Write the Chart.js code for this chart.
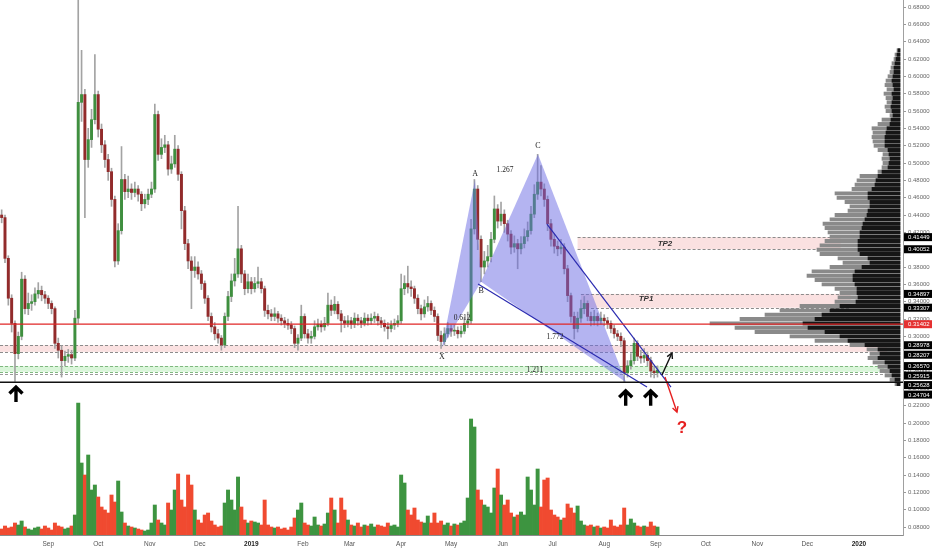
<!DOCTYPE html>
<html>
<head>
<meta charset="utf-8">
<script src="https://cdn.jsdelivr.net/npm/chart.js@4.4.0/dist/chart.umd.min.js"></script>
<style>
  html, body { margin: 0; padding: 0; background: #fff; overflow: hidden; }
  #wrap { position: relative; width: 932px; height: 550px; }
  #wrap canvas { position: absolute; left: 0; top: 0; }
</style>
</head>
<body>
<div id="wrap">
  <canvas id="main" width="932" height="550"></canvas>
  <canvas id="prof" width="932" height="550"></canvas>
</div>
<script>
Chart.defaults.font.family = "'Liberation Sans', Arial, sans-serif";

// price candles, one per two days, starting Aug 4 2018 (day 0)
const FIRST_OPEN = 0.440;
const CLOSE = [
  0.437, 0.390, 0.344, 0.315, 0.280, 0.300, 0.366, 0.332, 0.338, 0.340,
  0.349, 0.353, 0.348, 0.344, 0.338, 0.332, 0.292, 0.284, 0.272, 0.277,
  0.279, 0.275, 0.321, 0.570, 0.579, 0.504, 0.527, 0.550, 0.579, 0.539,
  0.521, 0.504, 0.490, 0.458, 0.387, 0.422, 0.481, 0.467, 0.470, 0.466,
  0.470, 0.464, 0.453, 0.458, 0.464, 0.470, 0.556, 0.510, 0.518, 0.521,
  0.493, 0.499, 0.516, 0.487, 0.445, 0.407, 0.387, 0.376, 0.380, 0.372,
  0.361, 0.344, 0.323, 0.311, 0.303, 0.298, 0.290, 0.323, 0.346, 0.364,
  0.372, 0.401, 0.372, 0.355, 0.363, 0.355, 0.361, 0.363, 0.355, 0.330,
  0.326, 0.323, 0.326, 0.321, 0.318, 0.315, 0.313, 0.309, 0.292, 0.298,
  0.323, 0.303, 0.298, 0.300, 0.311, 0.314, 0.311, 0.315, 0.336, 0.330,
  0.337, 0.326, 0.318, 0.315, 0.318, 0.314, 0.321, 0.318, 0.315, 0.321,
  0.318, 0.321, 0.323, 0.318, 0.315, 0.311, 0.309, 0.313, 0.315, 0.318,
  0.355, 0.361, 0.357, 0.355, 0.344, 0.332, 0.326, 0.334, 0.338, 0.330,
  0.323, 0.301, 0.294, 0.303, 0.309, 0.306, 0.307, 0.303, 0.306, 0.315,
  0.318, 0.424, 0.470, 0.412, 0.380, 0.387, 0.392, 0.412, 0.447, 0.433,
  0.441, 0.430, 0.418, 0.403, 0.407, 0.401, 0.407, 0.415, 0.422, 0.441,
  0.464, 0.478, 0.470, 0.458, 0.430, 0.412, 0.404, 0.401, 0.403, 0.378,
  0.347, 0.323, 0.309, 0.321, 0.332, 0.338, 0.323, 0.318, 0.323, 0.318,
  0.321, 0.318, 0.315, 0.309, 0.303, 0.300, 0.295, 0.258, 0.266, 0.272,
  0.292, 0.277, 0.275, 0.278, 0.272, 0.260, 0.258, 0.261
];
const HIGH = [
  0.446, 0.440, 0.393, 0.348, 0.318, 0.305, 0.374, 0.370, 0.350, 0.348,
  0.356, 0.362, 0.358, 0.352, 0.347, 0.341, 0.334, 0.298, 0.289, 0.283,
  0.285, 0.284, 0.330, 0.700, 0.630, 0.585, 0.540, 0.562, 0.625, 0.583,
  0.545, 0.526, 0.510, 0.494, 0.462, 0.430, 0.519, 0.487, 0.485, 0.476,
  0.478, 0.474, 0.467, 0.464, 0.470, 0.478, 0.568, 0.560, 0.528, 0.532,
  0.525, 0.508, 0.532, 0.520, 0.490, 0.450, 0.412, 0.392, 0.392, 0.386,
  0.376, 0.364, 0.347, 0.327, 0.316, 0.308, 0.301, 0.327, 0.352, 0.372,
  0.390, 0.450, 0.405, 0.376, 0.372, 0.368, 0.368, 0.380, 0.367, 0.358,
  0.336, 0.331, 0.333, 0.329, 0.325, 0.322, 0.320, 0.317, 0.312, 0.302,
  0.336, 0.326, 0.308, 0.306, 0.318, 0.320, 0.318, 0.322, 0.350, 0.342,
  0.346, 0.340, 0.330, 0.323, 0.324, 0.322, 0.327, 0.325, 0.322, 0.327,
  0.325, 0.326, 0.328, 0.326, 0.322, 0.319, 0.316, 0.318, 0.320, 0.324,
  0.372, 0.370, 0.381, 0.364, 0.358, 0.348, 0.336, 0.342, 0.346, 0.341,
  0.334, 0.326, 0.306, 0.310, 0.316, 0.313, 0.313, 0.311, 0.312, 0.322,
  0.328, 0.435, 0.481, 0.474, 0.416, 0.398, 0.405, 0.420, 0.462, 0.452,
  0.455, 0.446, 0.434, 0.422, 0.416, 0.412, 0.415, 0.424, 0.432, 0.450,
  0.475, 0.510, 0.497, 0.476, 0.462, 0.435, 0.418, 0.410, 0.412, 0.407,
  0.382, 0.350, 0.328, 0.328, 0.342, 0.346, 0.341, 0.328, 0.330, 0.327,
  0.328, 0.325, 0.322, 0.318, 0.313, 0.307, 0.304, 0.298, 0.272, 0.280,
  0.298, 0.295, 0.284, 0.286, 0.282, 0.276, 0.266, 0.266
];
const LOW = [
  0.431, 0.385, 0.336, 0.305, 0.248, 0.274, 0.296, 0.326, 0.325, 0.330,
  0.336, 0.344, 0.341, 0.338, 0.332, 0.326, 0.286, 0.275, 0.253, 0.266,
  0.270, 0.268, 0.272, 0.315, 0.548, 0.437, 0.495, 0.518, 0.545, 0.530,
  0.512, 0.495, 0.480, 0.450, 0.380, 0.383, 0.418, 0.458, 0.460, 0.458,
  0.461, 0.456, 0.445, 0.448, 0.452, 0.460, 0.466, 0.503, 0.505, 0.512,
  0.486, 0.488, 0.495, 0.480, 0.424, 0.400, 0.378, 0.332, 0.368, 0.366,
  0.354, 0.338, 0.318, 0.305, 0.296, 0.292, 0.284, 0.287, 0.318, 0.340,
  0.358, 0.368, 0.362, 0.348, 0.350, 0.349, 0.351, 0.356, 0.350, 0.323,
  0.320, 0.318, 0.318, 0.316, 0.313, 0.310, 0.308, 0.303, 0.287, 0.284,
  0.295, 0.298, 0.292, 0.292, 0.297, 0.307, 0.305, 0.307, 0.312, 0.324,
  0.326, 0.320, 0.305, 0.310, 0.311, 0.309, 0.310, 0.313, 0.310, 0.312,
  0.313, 0.314, 0.316, 0.313, 0.310, 0.306, 0.297, 0.305, 0.308, 0.311,
  0.315, 0.348, 0.350, 0.346, 0.338, 0.326, 0.319, 0.322, 0.329, 0.325,
  0.317, 0.295, 0.286, 0.290, 0.299, 0.300, 0.301, 0.298, 0.299, 0.303,
  0.310, 0.315, 0.418, 0.400, 0.363, 0.372, 0.380, 0.386, 0.408, 0.425,
  0.428, 0.420, 0.410, 0.395, 0.397, 0.378, 0.395, 0.402, 0.410, 0.418,
  0.437, 0.458, 0.462, 0.450, 0.422, 0.404, 0.396, 0.393, 0.395, 0.372,
  0.340, 0.316, 0.297, 0.305, 0.316, 0.326, 0.318, 0.312, 0.313, 0.312,
  0.314, 0.312, 0.309, 0.304, 0.298, 0.295, 0.288, 0.247, 0.253, 0.262,
  0.268, 0.272, 0.269, 0.270, 0.266, 0.253, 0.252, 0.253
];
// volume, in pixel-like units of the hidden volume axis
const VOLUME = [
  6, 9, 7, 8, 12, 10, 14, 8, 6, 5,
  7, 8, 6, 9, 7, 5, 12, 9, 8, 6,
  7, 9, 20, 132, 72, 60, 80, 45, 50, 38,
  28, 25, 22, 40, 33, 54, 23, 12, 9, 8,
  7, 6, 5, 4, 5, 12, 30, 15, 12, 10,
  32, 25, 45, 61, 35, 28, 60, 50, 25, 15,
  12, 20, 22, 14, 10, 8, 9, 32, 45, 35,
  25, 58, 28, 15, 12, 14, 13, 12, 10, 35,
  10, 8, 7, 8, 6, 7, 5, 8, 17, 25,
  32, 12, 10, 9, 18, 10, 9, 11, 22, 37,
  25, 12, 37, 25, 15, 10, 9, 12, 8, 10,
  9, 11, 8, 10, 9, 8, 12, 9, 10, 8,
  60, 52, 25, 20, 27, 15, 13, 12, 19, 12,
  22, 12, 14, 10, 12, 9, 11, 10, 12, 14,
  37, 116, 108, 45, 35, 30, 28, 22, 47, 66,
  40, 30, 35, 22, 18, 20, 23, 20, 58, 45,
  30, 66, 28, 55, 57, 25, 20, 18, 15, 17,
  31, 27, 22, 29, 14, 10, 9, 10, 8, 9,
  7, 8, 7, 15, 9, 8, 10, 27, 10, 16,
  12, 9, 8, 9, 8, 13, 9, 8
];

// volume profile rows (price, total width, dark part width)
const PROFILE_PRICE = [
  0.630, 0.625, 0.620, 0.615, 0.610, 0.605, 0.600,
  0.595, 0.590, 0.585, 0.580, 0.575, 0.570, 0.565, 0.560, 0.555, 0.550,
  0.545, 0.540, 0.535, 0.530, 0.525, 0.520, 0.515, 0.510, 0.505, 0.500,
  0.495, 0.490, 0.485, 0.480, 0.475, 0.470, 0.465, 0.460, 0.455, 0.450,
  0.445, 0.440, 0.435, 0.430, 0.425, 0.420, 0.415, 0.410, 0.405, 0.400,
  0.395, 0.390, 0.385, 0.380, 0.375, 0.370, 0.365, 0.360, 0.355, 0.350,
  0.345, 0.340, 0.335, 0.330, 0.325, 0.320, 0.315, 0.310, 0.305, 0.300,
  0.295, 0.290, 0.285, 0.280, 0.275, 0.270, 0.265, 0.260, 0.255, 0.250,
  0.245
];
const PROFILE_TOTAL = [
  3, 5, 6, 8, 9, 10, 12,
  14, 15, 13, 16, 14, 13, 15, 14, 10, 18,
  22, 28, 27, 28, 27, 26, 22, 17, 18, 17,
  18, 22, 40, 43, 45, 48, 65, 63, 55, 50,
  52, 65, 70, 77, 75, 72, 70, 75, 80, 83,
  80, 62, 57, 70, 88, 93, 85, 78, 65, 60,
  62, 65, 100, 120, 135, 160, 190, 165, 145, 110,
  85, 50, 33, 30, 32, 27, 22, 20, 15, 10,
  5
];
const PROFILE_DARK = [
  2, 3, 4, 5, 6, 6, 7,
  8, 7, 6, 8, 7, 8, 9, 8, 7, 9,
  10, 13, 14, 15, 15, 15, 12, 11, 10, 11,
  12, 18, 22, 24, 25, 28, 32, 32, 30, 30,
  32, 33, 35, 37, 38, 40, 40, 42, 42, 42,
  40, 32, 30, 38, 45, 47, 47, 45, 43, 43,
  42, 44, 60, 70, 78, 85, 97, 92, 75, 60,
  52, 35, 22, 20, 22, 15, 12, 10, 8, 5,
  3
];

// axes
const X_MIN = -1, X_MAX = 541.5;
const Y_MIN = 0.0708, Y_MAX = 0.6881;
const PRICE_TICKS = [0.08, 0.10, 0.12, 0.14, 0.16, 0.18, 0.20, 0.22, 0.24, 0.26, 0.28, 0.30,
  0.32, 0.34, 0.36, 0.38, 0.40, 0.42, 0.44, 0.46, 0.48, 0.50, 0.52, 0.54, 0.56, 0.58, 0.60,
  0.62, 0.64, 0.66, 0.68];
const MONTH_DAYS = [28, 58, 89, 119, 150, 181, 209, 240, 270, 301, 331, 362, 393, 423, 454, 484, 515];
const MONTH_LABELS = ['Sep', 'Oct', 'Nov', 'Dec', '2019', 'Feb', 'Mar', 'Apr', 'May', 'Jun', 'Jul',
  'Aug', 'Sep', 'Oct', 'Nov', 'Dec', '2020'];

// drawn levels and zones
const LEVEL_PRICES = [0.41449, 0.40052, 0.34897, 0.33307, 0.31402, 0.28978, 0.28207, 0.26570, 0.25915, 0.25628, 0.24704];
const RED_LEVEL = 0.31402;
const BLACK_LEVEL = 0.24704;
const ZONE_TOP = [0.41449, 0.34897, 0.28978, 0.26570];
const ZONE_BOTTOM = [0.40052, 0.33307, 0.28207, 0.25915];
const ZONE_FROM = [346, 348, -1, -1];
const ZONE_TO = [504, 510, 532, 530];
const ZONE_FILL = ['rgba(242,170,170,0.35)', 'rgba(242,170,170,0.35)', 'rgba(242,170,170,0.35)', 'rgba(160,230,160,0.4)'];
const ZONE_EDGE = ['#8c8c8c', '#8c8c8c', '#8c8c8c', '#7fb87f'];

// harmonic pattern X A B C D
const PATTERN_NAMES = ['X', 'A', 'B', 'C', 'D'];
const PATTERN_DAY = [264.5, 284.4, 288, 322.2, 375.1];
const PATTERN_PRICE = [0.287, 0.481, 0.363, 0.510, 0.247];
const RATIO_TEXT = ['0.612', '1.267', '1.772', '1.211'];
const RATIO_DAY = [276.6, 302.4, 332.4, 320.4];
const RATIO_PRICE = [0.3212, 0.4919, 0.2993, 0.2612];
const WEDGE = [[286.2, 0.3604, 387.7, 0.2415], [327.6, 0.4296, 402.1, 0.2415]];
const UP_ARROW_DAY = [8.6, 374.9, 389.9];
const UP_ARROW_PRICE = [0.2415, 0.2372, 0.2372];

const DAY = CLOSE.map((c, i) => i * 2);
const OPEN = CLOSE.map((c, i) => i === 0 ? FIRST_OPEN : CLOSE[i - 1]);
const RISING = CLOSE.map((c, i) => c >= OPEN[i]);

function isYear(ctx) {
    const lab = MONTH_LABELS[ctx.index];
    return !!lab && lab.length === 4;
}

function thinArrow(ctx, x1, y1, x2, y2, color) {
    ctx.strokeStyle = color;
    ctx.lineWidth = 1.4;
    ctx.setLineDash([]);
    ctx.beginPath();
    ctx.moveTo(x1, y1);
    ctx.lineTo(x2, y2);
    ctx.stroke();
    const a = Math.atan2(y2 - y1, x2 - x1), h = 6;
    ctx.beginPath();
    ctx.moveTo(x2 - h * Math.cos(a - 0.5), y2 - h * Math.sin(a - 0.5));
    ctx.lineTo(x2, y2);
    ctx.lineTo(x2 - h * Math.cos(a + 0.5), y2 - h * Math.sin(a + 0.5));
    ctx.stroke();
}

function bigUpArrow(ctx, x, y) {
    ctx.strokeStyle = '#000';
    ctx.lineWidth = 3.4;
    ctx.lineJoin = 'miter';
    ctx.beginPath();
    ctx.moveTo(x - 6.5, y + 6.5);
    ctx.lineTo(x, y);
    ctx.lineTo(x + 6.5, y + 6.5);
    ctx.moveTo(x, y + 1);
    ctx.lineTo(x, y + 15);
    ctx.stroke();
}

const annotations = {
    id: 'annotations',
    beforeDatasetsDraw(chart) {
        const { ctx, scales: { x, y } } = chart;
        ctx.save();
        ZONE_TOP.forEach((top, i) => {
            const x1 = x.getPixelForValue(ZONE_FROM[i]), x2 = x.getPixelForValue(ZONE_TO[i]);
            const y1 = y.getPixelForValue(top), y2 = y.getPixelForValue(ZONE_BOTTOM[i]);
            ctx.fillStyle = ZONE_FILL[i];
            ctx.fillRect(x1, y1, x2 - x1, y2 - y1);
            ctx.strokeStyle = ZONE_EDGE[i];
            ctx.lineWidth = 1;
            ctx.setLineDash([3, 2]);
            [y1, y2].forEach(py => {
                ctx.beginPath();
                ctx.moveTo(x1, Math.round(py) + 0.5);
                ctx.lineTo(x2, Math.round(py) + 0.5);
                ctx.stroke();
            });
        });
        // extra dashed level just above the black support line
        const yl = Math.round(y.getPixelForValue(0.25628)) + 0.5;
        ctx.strokeStyle = '#9a9a9a';
        ctx.beginPath();
        ctx.moveTo(x.getPixelForValue(-1), yl);
        ctx.lineTo(x.getPixelForValue(530), yl);
        ctx.stroke();
        ctx.restore();
    },
    afterDatasetsDraw(chart) {
        const { ctx, scales: { x, y } } = chart;
        const px = PATTERN_DAY.map(d => x.getPixelForValue(d));
        const py = PATTERN_PRICE.map(p => y.getPixelForValue(p));
        ctx.save();
        // triangles XAB and BCD
        ctx.fillStyle = 'rgba(105,105,228,0.5)';
        [[0, 1, 2], [2, 3, 4]].forEach(t => {
            ctx.beginPath();
            ctx.moveTo(px[t[0]], py[t[0]]);
            ctx.lineTo(px[t[1]], py[t[1]]);
            ctx.lineTo(px[t[2]], py[t[2]]);
            ctx.closePath();
            ctx.fill();
        });
        // falling wedge
        ctx.strokeStyle = '#2b2bb0';
        ctx.lineWidth = 1.2;
        WEDGE.forEach(w => {
            ctx.beginPath();
            ctx.moveTo(x.getPixelForValue(w[0]), y.getPixelForValue(w[1]));
            ctx.lineTo(x.getPixelForValue(w[2]), y.getPixelForValue(w[3]));
            ctx.stroke();
        });
        // pattern letters and ratios
        ctx.fillStyle = '#222';
        ctx.textAlign = 'center';
        ctx.textBaseline = 'middle';
        ctx.font = "8px 'Liberation Serif', serif";
        const letterOffset = [9, -6, 9, -8];
        for (let i = 0; i < 4; i++) {
            ctx.fillText(PATTERN_NAMES[i], px[i], py[i] + letterOffset[i]);
        }
        ctx.font = "7.5px 'Liberation Serif', serif";
        RATIO_TEXT.forEach((t, i) => {
            ctx.fillText(t, x.getPixelForValue(RATIO_DAY[i]), y.getPixelForValue(RATIO_PRICE[i]));
        });
        // take profit labels
        ctx.font = "italic bold 8px 'Liberation Sans', sans-serif";
        ctx.fillStyle = '#333';
        ctx.fillText('TP2', x.getPixelForValue(398.5), y.getPixelForValue(0.4065));
        ctx.fillText('TP1', x.getPixelForValue(387.1), y.getPixelForValue(0.3431));
        // scenario arrows
        thinArrow(ctx, x.getPixelForValue(396.7), y.getPixelForValue(0.2554), x.getPixelForValue(402.7), y.getPixelForValue(0.2808), '#111');
        thinArrow(ctx, x.getPixelForValue(398.5), y.getPixelForValue(0.2531), x.getPixelForValue(405.7), y.getPixelForValue(0.2127), '#e62020');
        ctx.font = "bold 17px 'Liberation Sans', sans-serif";
        ctx.fillStyle = '#e62020';
        ctx.fillText('?', x.getPixelForValue(408.7), y.getPixelForValue(0.1943));
        UP_ARROW_DAY.forEach((d, i) => bigUpArrow(ctx, x.getPixelForValue(d), y.getPixelForValue(UP_ARROW_PRICE[i])));
        ctx.restore();
    },
    afterDraw(chart) {
        const { ctx, chartArea: a, scales: { y } } = chart;
        ctx.save();
        ctx.font = "6px 'Liberation Sans', sans-serif";
        ctx.textBaseline = 'middle';
        ctx.textAlign = 'left';
        let prev = -100;
        LEVEL_PRICES.forEach(p => {
            const yc = Math.max(y.getPixelForValue(p), prev + 9.5);
            prev = yc;
            ctx.fillStyle = p === RED_LEVEL ? '#e53030' : '#000';
            ctx.fillRect(a.right + 1, yc - 4, 932 - a.right - 1, 8);
            ctx.fillStyle = '#fff';
            ctx.fillText(p.toFixed(5), a.right + 5, yc + 0.5);
        });
        ctx.restore();
    }
};

const mainChart = new Chart(document.getElementById('main'), {
    type: 'bar',
    data: {
        datasets: [
            {
                data: DAY.map((d, i) => ({ x: d, y: [OPEN[i], CLOSE[i]] })),
                backgroundColor: RISING.map(r => r ? '#3f8f3f' : '#922b2b'),
                barThickness: 2.3, minBarLength: 1, grouped: false, order: 0
            },
            {
                data: DAY.map((d, i) => ({ x: d, y: [LOW[i], HIGH[i]] })),
                backgroundColor: '#a3a3a3',
                barThickness: 1, grouped: false, order: 1
            },
            {
                data: DAY.map((d, i) => ({ x: d, y: VOLUME[i] })),
                yAxisID: 'vol',
                backgroundColor: RISING.map(r => r ? '#3d9440' : '#f04a30'),
                barThickness: 3.3, grouped: false, order: 2
            }
        ]
    },
    options: {
        responsive: false,
        animation: false,
        events: [],
        layout: { padding: 0 },
        plugins: { legend: { display: false }, tooltip: { enabled: false } },
        scales: {
            x: {
                type: 'linear', min: X_MIN, max: X_MAX, offset: false,
                grid: { display: false, drawTicks: false },
                border: { display: true, color: '#8a8a8a' },
                afterBuildTicks: s => { s.ticks = MONTH_DAYS.map(v => ({ value: v })); },
                afterFit: s => { s.height = 15; s.paddingLeft = 0; s.paddingRight = 0; },
                ticks: {
                    autoSkip: false, maxRotation: 0, padding: 5,
                    color: ctx => isYear(ctx) ? '#222' : '#555',
                    font: ctx => ({ size: 6.5, weight: isYear(ctx) ? 'bold' : 'normal' }),
                    callback: (v, i) => MONTH_LABELS[i]
                }
            },
            y: {
                type: 'linear', position: 'right', min: Y_MIN, max: Y_MAX,
                grid: { display: true, drawOnChartArea: false, drawTicks: true, tickLength: 3, color: '#999' },
                border: { display: true, color: '#a0a0a0' },
                afterBuildTicks: s => { s.ticks = PRICE_TICKS.map(v => ({ value: v })); },
                afterFit: s => { s.width = 29; s.paddingTop = 0; s.paddingBottom = 0; },
                ticks: {
                    autoSkip: false, padding: 2, color: '#666',
                    font: { size: 6 },
                    callback: v => v.toFixed(5)
                }
            },
            vol: { type: 'linear', display: false, min: 0, max: 535 }
        }
    },
    plugins: [annotations]
});

const ca = mainChart.chartArea;

// horizontal levels drawn over the volume profile
const levelLines = {
    id: 'levelLines',
    afterDatasetsDraw(chart) {
        const { ctx, chartArea: a, scales: { y } } = chart;
        ctx.save();
        ctx.lineWidth = 1.3;
        ctx.strokeStyle = '#e02626';
        let yy = y.getPixelForValue(RED_LEVEL);
        ctx.beginPath(); ctx.moveTo(a.left, yy); ctx.lineTo(a.right, yy); ctx.stroke();
        ctx.strokeStyle = '#111';
        yy = y.getPixelForValue(BLACK_LEVEL);
        ctx.beginPath(); ctx.moveTo(a.left, yy); ctx.lineTo(a.right, yy); ctx.stroke();
        ctx.restore();
    }
};

new Chart(document.getElementById('prof'), {
    type: 'bar',
    data: {
        datasets: [
            {
                data: PROFILE_PRICE.map((p, i) => ({ y: p, x: [3, 3 + PROFILE_DARK[i]] })),
                backgroundColor: '#161616', barThickness: 3.3, grouped: false, order: 0
            },
            {
                data: PROFILE_PRICE.map((p, i) => ({ y: p, x: [3, 3 + PROFILE_TOTAL[i]] })),
                backgroundColor: '#8a8a8a', barThickness: 3.3, grouped: false, order: 1
            }
        ]
    },
    options: {
        indexAxis: 'y',
        responsive: false,
        animation: false,
        events: [],
        layout: { padding: { left: ca.left, top: ca.top, right: 932 - ca.right, bottom: 550 - ca.bottom } },
        plugins: { legend: { display: false }, tooltip: { enabled: false } },
        scales: {
            y: { type: 'linear', min: Y_MIN, max: Y_MAX, display: false, offset: false },
            x: { type: 'linear', min: 0, max: ca.right - ca.left, reverse: true, display: false }
        }
    },
    plugins: [levelLines]
});
</script>
</body>
</html>
